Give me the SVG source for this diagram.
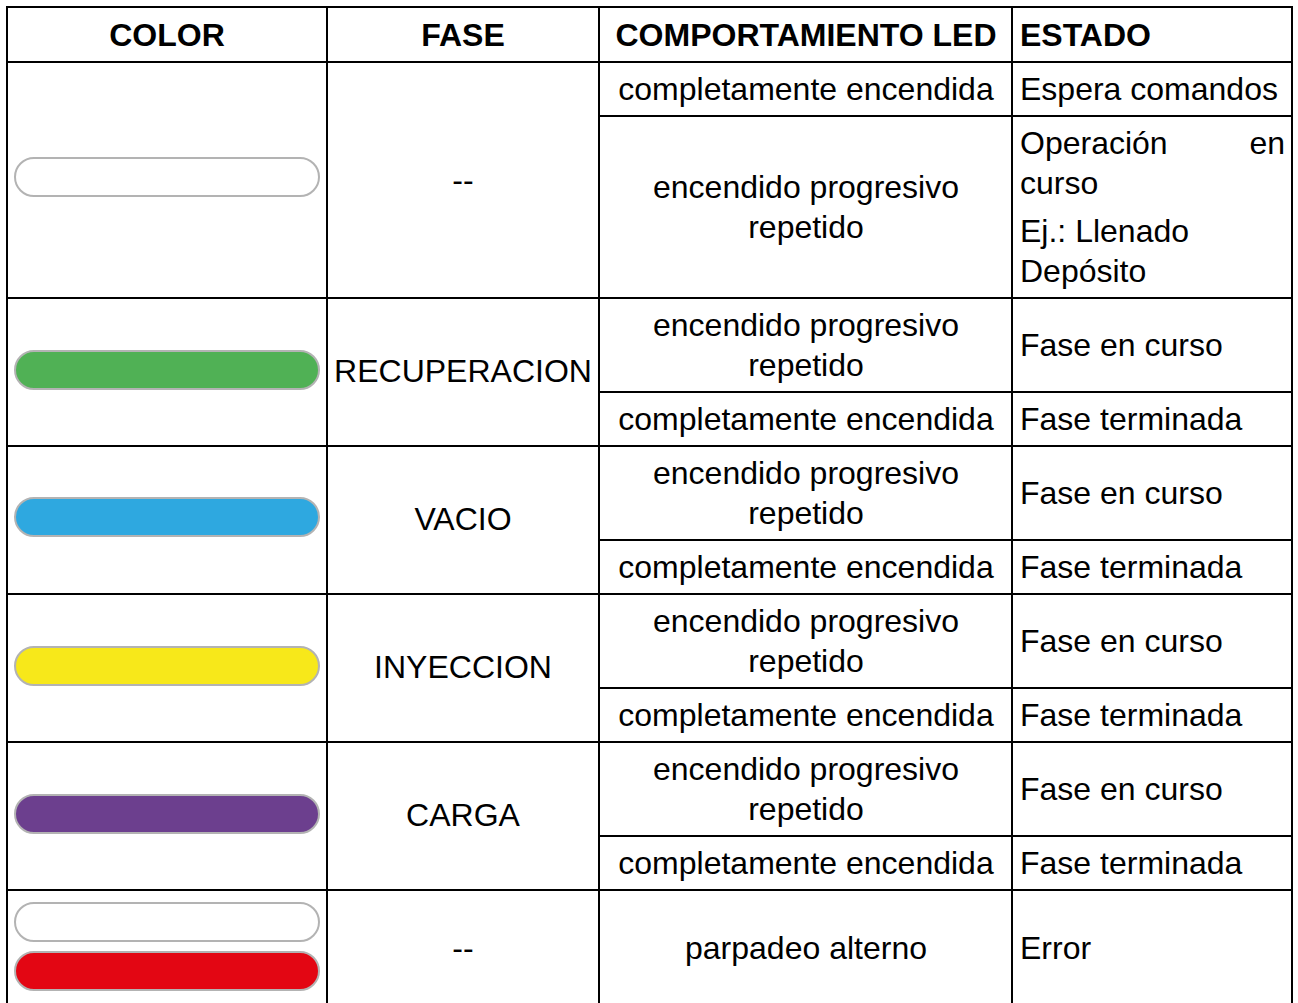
<svg xmlns="http://www.w3.org/2000/svg" width="1298" height="1003" viewBox="0 0 1298 1003">
<style>
text{font-family:"Liberation Sans",Arial,sans-serif;font-size:32px;fill:#000}
.h{font-weight:bold}
.c{text-anchor:middle}
.g line{stroke:#000;stroke-width:2}
.led{stroke:#b3b3b3;stroke-width:2}
</style>
<rect x="0" y="0" width="1298" height="1003" fill="#fff"/>
<g id="grid" class="g">
<line x1="7" y1="7" x2="1292" y2="7"/>
<line x1="7" y1="62" x2="1292" y2="62"/>
<line x1="599" y1="116" x2="1292" y2="116"/>
<line x1="7" y1="298" x2="1292" y2="298"/>
<line x1="599" y1="392" x2="1292" y2="392"/>
<line x1="7" y1="446" x2="1292" y2="446"/>
<line x1="599" y1="540" x2="1292" y2="540"/>
<line x1="7" y1="594" x2="1292" y2="594"/>
<line x1="599" y1="688" x2="1292" y2="688"/>
<line x1="7" y1="742" x2="1292" y2="742"/>
<line x1="599" y1="836" x2="1292" y2="836"/>
<line x1="7" y1="890" x2="1292" y2="890"/>
<line x1="7" y1="6" x2="7" y2="1003"/>
<line x1="327" y1="6" x2="327" y2="1003"/>
<line x1="599" y1="6" x2="599" y2="1003"/>
<line x1="1012" y1="6" x2="1012" y2="1003"/>
<line x1="1292" y1="6" x2="1292" y2="1003"/>
</g>
<g id="header">
<text class="h c" x="167" y="46">COLOR</text>
<text class="h c" x="463" y="46">FASE</text>
<text class="h c" x="806" y="46">COMPORTAMIENTO LED</text>
<text class="h" x="1020" y="46">ESTADO</text>
</g>
<g id="row-white">
<rect class="led" x="15" y="158" width="304" height="38" rx="19" fill="#fff"/>
<text class="c" x="463" y="191">--</text>
<text class="c" x="806" y="100">completamente encendida</text>
<text x="1020" y="100">Espera comandos</text>
<text class="c" x="806" y="198">encendido progresivo</text>
<text class="c" x="806" y="238">repetido</text>
<text x="1020" y="154">Operación</text>
<text x="1285" y="154" text-anchor="end">en</text>
<text x="1020" y="194">curso</text>
<text x="1020" y="242">Ej.: Llenado</text>
<text x="1020" y="282">Depósito</text>
</g>
<g id="row-recuperacion">
<rect class="led" x="15" y="351" width="304" height="38" rx="19" fill="#50b155"/>
<text class="c" x="463" y="382">RECUPERACION</text>
<text class="c" x="806" y="336">encendido progresivo</text>
<text class="c" x="806" y="376">repetido</text>
<text x="1020" y="356">Fase en curso</text>
<text class="c" x="806" y="430">completamente encendida</text>
<text x="1020" y="430">Fase terminada</text>
</g>
<g id="row-vacio">
<rect class="led" x="15" y="498" width="304" height="38" rx="19" fill="#2ea8e0"/>
<text class="c" x="463" y="530">VACIO</text>
<text class="c" x="806" y="484">encendido progresivo</text>
<text class="c" x="806" y="524">repetido</text>
<text x="1020" y="504">Fase en curso</text>
<text class="c" x="806" y="578">completamente encendida</text>
<text x="1020" y="578">Fase terminada</text>
</g>
<g id="row-inyeccion">
<rect class="led" x="15" y="647" width="304" height="38" rx="19" fill="#f7e81a"/>
<text class="c" x="463" y="678">INYECCION</text>
<text class="c" x="806" y="632">encendido progresivo</text>
<text class="c" x="806" y="672">repetido</text>
<text x="1020" y="652">Fase en curso</text>
<text class="c" x="806" y="726">completamente encendida</text>
<text x="1020" y="726">Fase terminada</text>
</g>
<g id="row-carga">
<rect class="led" x="15" y="795" width="304" height="38" rx="19" fill="#6c3f8e"/>
<text class="c" x="463" y="826">CARGA</text>
<text class="c" x="806" y="780">encendido progresivo</text>
<text class="c" x="806" y="820">repetido</text>
<text x="1020" y="800">Fase en curso</text>
<text class="c" x="806" y="874">completamente encendida</text>
<text x="1020" y="874">Fase terminada</text>
</g>
<g id="row-error">
<rect class="led" x="15" y="903" width="304" height="38" rx="19" fill="#fff"/>
<rect class="led" x="15" y="952" width="304" height="38" rx="19" fill="#e30613"/>
<text class="c" x="463" y="959">--</text>
<text class="c" x="806" y="959">parpadeo alterno</text>
<text x="1020" y="959">Error</text>
</g>
</svg>
